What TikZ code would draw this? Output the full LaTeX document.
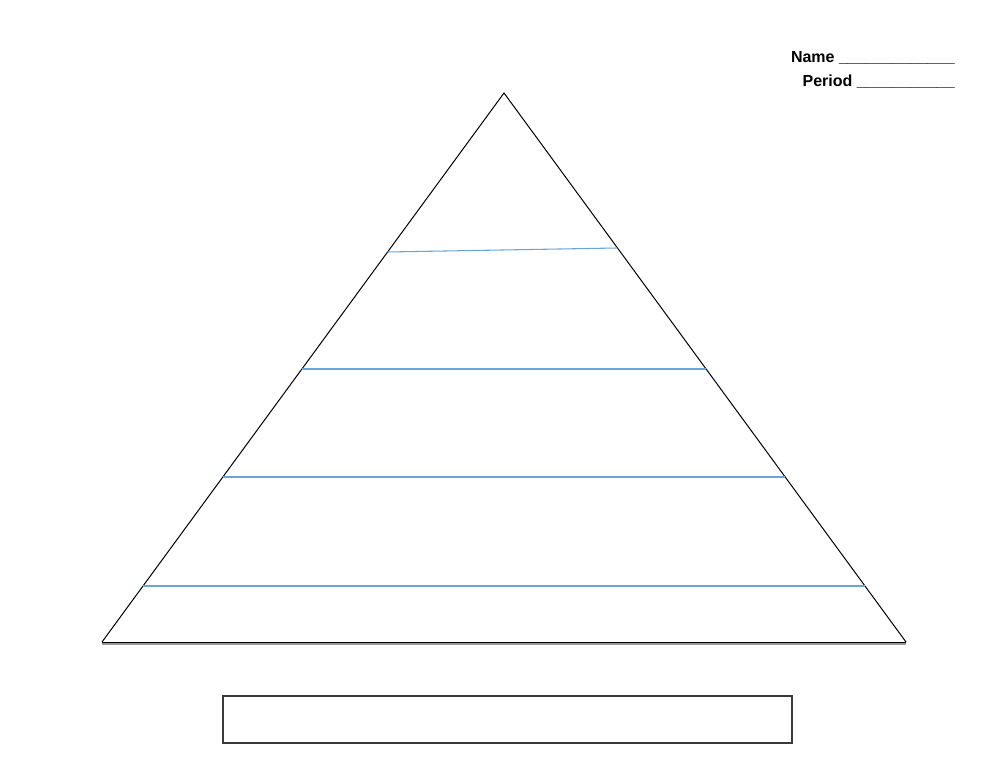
\documentclass[tikz,border=0pt]{standalone}
\usepackage{fontspec}
\setmainfont{Liberation Sans}
\usetikzlibrary{calc}
\definecolor{levelblue}{HTML}{6AA4DA}
\definecolor{boxgray}{HTML}{3A3A3A}

\begin{document}
\begin{tikzpicture}[x=0.75pt,y=-0.75pt,
    level/.style={levelblue, line width=0.8pt},
    edge/.style={black, line width=0.75pt},
    header/.style={anchor=east, inner sep=0pt, font=\fontsize{12}{14}\selectfont\bfseries}]
      % Fix the page to the reference size
      \useasboundingbox (0,0) rectangle (1000,772);

      % Corners of the pyramid
      \coordinate (apex) at (504,93);
      \coordinate (bl) at (102,642);
      \coordinate (br) at (906,642);

      % Draw the pyramid outline
      \draw[edge, line join=miter] (bl) -- (apex) -- (br);
      \draw[black!40, line width=1.6pt] ($(bl)+(0,1.5)$) -- ($(br)+(0,1.5)$);
      \draw[edge] (bl) -- (br);

      % Add the level lines
      \draw[level] ($(apex)!0.2896!(bl)$) -- ($(apex)!0.2823!(br)$);
      \draw[level] ($(apex)!0.5027!(bl)$) -- ($(apex)!0.5027!(br)$);
      \draw[level] ($(apex)!0.6995!(bl)$) -- ($(apex)!0.6995!(br)$);
      \draw[level] ($(apex)!0.8980!(bl)$) -- ($(apex)!0.8980!(br)$);

      % Title box under the pyramid
      \draw[boxgray, line width=1.1pt] (223,696) rectangle (792,743);

      % Name and period
      \node[header] (name) at (955,58) {Name \_\_\_\_\_\_\_\_\_\_\_\_\_};
      \node[header] (period) at (955,82) {Period \_\_\_\_\_\_\_\_\_\_\_};
    \end{tikzpicture}
\end{document}
